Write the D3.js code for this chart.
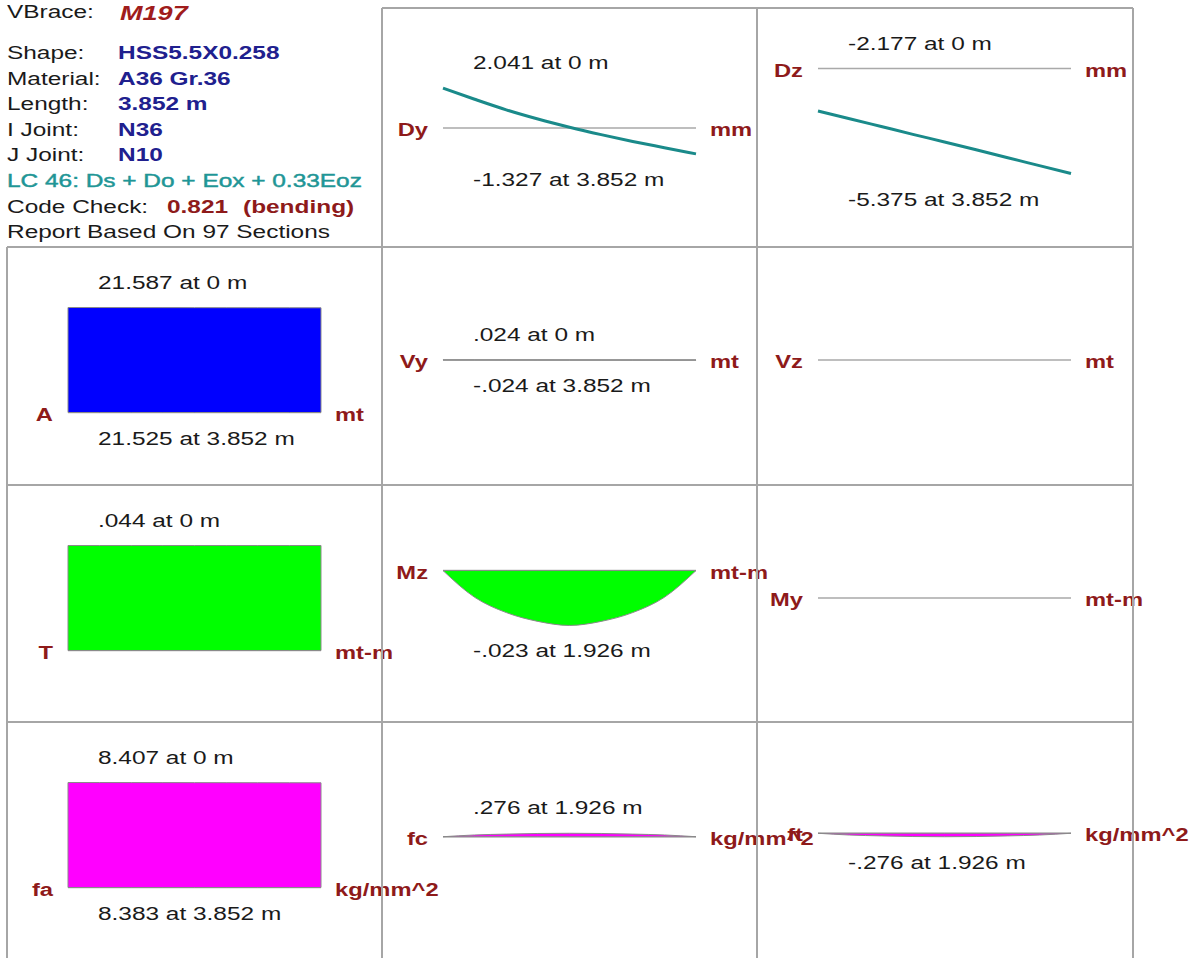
<!DOCTYPE html>
<html>
<head>
<meta charset="utf-8">
<script src="https://cdn.jsdelivr.net/npm/d3@7"></script>
<style>
  html, body { margin: 0; padding: 0; background: #fff; }
  svg { display: block; }
</style>
</head>
<body>
<script>
// ---- Member summary ----
const memberType = "VBrace:";
const memberName = "M197";
const infoLabels = ["Shape:", "Material:", "Length:", "I Joint:", "J Joint:"];
const infoValues = ["HSS5.5X0.258", "A36 Gr.36", "3.852 m", "N36", "N10"];
const loadCombo = "LC 46: Ds + Do + Eox + 0.33Eoz";
const codeCheckValue = "0.821";
const codeCheckGoverning = "(bending)";
const sectionCount = 97;

// ---- Results along the member (one value per station) ----
const memberLength = 3.852;
const stations = [0, 0.4815, 0.963, 1.4445, 1.926, 2.4075, 2.889, 3.3705, 3.852];

const dyValues     = [2.041, 1.47, 0.93, 0.46, 0.04, -0.34, -0.69, -1.01, -1.327];
const dzValues     = [-2.177, -2.57, -2.97, -3.37, -3.76, -4.16, -4.57, -4.97, -5.375];
const axialValues  = [21.587, 21.58, 21.572, 21.564, 21.556, 21.548, 21.54, 21.532, 21.525];
const vyValues     = [0.024, 0.018, 0.012, 0.006, 0, -0.006, -0.012, -0.018, -0.024];
const vzValues     = [0, 0, 0, 0, 0, 0, 0, 0, 0];
const torqueValues = [0.044, 0.044, 0.044, 0.044, 0.044, 0.044, 0.044, 0.044, 0.044];
const mzValues     = [0, -0.0112, -0.0176, -0.0213, -0.023, -0.0213, -0.0176, -0.0112, 0];
const myValues     = [0, 0, 0, 0, 0, 0, 0, 0, 0];
const faValues     = [8.407, 8.404, 8.401, 8.398, 8.395, 8.392, 8.389, 8.386, 8.383];
const fcValues     = [0, 0.14, 0.21, 0.26, 0.276, 0.26, 0.21, 0.14, 0];
const ftValues     = [0, -0.14, -0.21, -0.26, -0.276, -0.26, -0.21, -0.14, 0];

const diagramNames = ["Dy", "Dz", "A", "Vy", "Vz", "T", "Mz", "My", "fa", "fc", "ft"];
const diagramUnits = ["mm", "mm", "mt", "mt", "mt", "mt-m", "mt-m", "mt-m", "kg/mm^2", "kg/mm^2", "kg/mm^2"];
const diagramSeries = [dyValues, dzValues, axialValues, vyValues, vzValues,
                       torqueValues, mzValues, myValues, faValues, fcValues, ftValues];

// ---- Page layout ----
const W = 1199, H = 958;
const SX = 1.32;          // horizontal stretch of the lettering
const FS = 18.5;
const FONT = "'Liberation Sans', Arial, Helvetica, sans-serif";
const colX = [7, 382, 757, 1133];
const rowY = [8, 247, 485, 722, 960];
const SPAN = 105;         // pixel height of the largest value in a group

const RED = "#8e1a1a", NAVY = "#20208e", TEAL = "#1f9696", INK = "#1a1a1a";

// grid cell, drawing style and scale group for each diagram
const cells = {
  Dy: { col: 1, row: 0, kind: "line", group: "disp" },
  Dz: { col: 2, row: 0, kind: "line", group: "disp" },
  A:  { col: 0, row: 1, kind: "area", group: "force",  fill: "#0000ff" },
  Vy: { col: 1, row: 1, kind: "area", group: "force",  fill: "#ffff00" },
  Vz: { col: 2, row: 1, kind: "area", group: "force",  fill: "#ffff00" },
  T:  { col: 0, row: 2, kind: "area", group: "moment", fill: "#00ff00" },
  Mz: { col: 1, row: 2, kind: "area", group: "moment", fill: "#00ff00" },
  My: { col: 2, row: 2, kind: "area", group: "moment", fill: "#00ff00" },
  fa: { col: 0, row: 3, kind: "area", group: "stress", fill: "#ff00ff" },
  fc: { col: 1, row: 3, kind: "area", group: "stress", fill: "#ff00ff" },
  ft: { col: 2, row: 3, kind: "area", group: "stress", fill: "#ff00ff" }
};

const svg = d3.select("body").append("svg")
  .attr("width", W).attr("height", H)
  .attr("viewBox", `0 0 ${W} ${H}`);

svg.append("rect").attr("width", W).attr("height", H).attr("fill", "#fff");

function label(g, x, y, s, o = {}) {
  return g.append("text")
    .attr("transform", `translate(${x},${y}) scale(${SX},1)`)
    .attr("text-anchor", o.anchor || "start")
    .style("font-family", FONT)
    .style("font-size", (o.size || FS) + "px")
    .style("font-weight", o.weight || "normal")
    .style("font-style", o.italic ? "italic" : "normal")
    .attr("fill", o.color || INK)
    .attr("stroke", o.stroke || "none")
    .attr("stroke-width", o.strokeWidth || 0)
    .text(s);
}

// ---- Header block ----
const head = svg.append("g");
label(head, 7, 18, memberType);
label(head, 120, 20, memberName, { weight: "bold", italic: true, size: 20.5, color: "#a01c1c" });
const lineY = i => 59 + 25.6 * i;
infoLabels.forEach((t, i) => {
  label(head, 7, lineY(i), t);
  label(head, 118, lineY(i), infoValues[i], { weight: "bold", color: NAVY });
});
label(head, 7, lineY(5), loadCombo, { color: TEAL, stroke: TEAL, strokeWidth: 0.45 });
label(head, 7, lineY(6), "Code Check:");
label(head, 167, lineY(6), codeCheckValue, { weight: "bold", color: RED });
label(head, 243, lineY(6), codeCheckGoverning, { weight: "bold", color: RED });
label(head, 7, lineY(7), `Report Based On ${sectionCount} Sections`);

// ---- Shared scale per group ----
const groupMax = {};
diagramNames.forEach((n, i) => {
  const g = cells[n].group;
  const m = d3.max(diagramSeries[i], v => Math.abs(v));
  groupMax[g] = Math.max(groupMax[g] || 0, m);
});

// values print with three decimals and no leading zero
const fmtVal = v => v.toFixed(3).replace(/^(-?)0\./, "$1.");
const fmtPos = s => String(+s.toFixed(3));

const plots = svg.append("g");
diagramNames.forEach((name, i) => {
  const c = cells[name];
  const vals = diagramSeries[i];
  const cx = colX[c.col], cy = rowY[c.row];
  const gmax = groupMax[c.group];
  const k = SPAN / gmax;
  const vmax = d3.max(vals), vmin = d3.min(vals);
  const center = cy + 113;
  const base = center + (Math.max(0, vmax) + Math.min(0, vmin)) * k / 2;

  const x = d3.scaleLinear().domain([0, memberLength]).range([cx + 61, cx + 314]);
  const y = d3.scaleLinear().domain([0, gmax]).range([base, base - SPAN]);
  const pts = stations.map((s, j) => [s, vals[j]]);
  const g = plots.append("g");

  // zero line
  g.append("line")
    .attr("x1", x(0)).attr("x2", x(memberLength))
    .attr("y1", y(0)).attr("y2", y(0))
    .attr("stroke", "#a9a9a9").attr("stroke-width", 1.6);

  if (c.kind === "line") {
    g.append("path")
      .attr("d", d3.line().x(d => x(d[0])).y(d => y(d[1])).curve(d3.curveMonotoneX)(pts))
      .attr("fill", "none").attr("stroke", "#1a8a8a").attr("stroke-width", 3);
  } else if (vmax !== 0 || vmin !== 0) {
    g.append("path")
      .attr("d", d3.area().x(d => x(d[0])).y0(y(0)).y1(d => y(d[1])).curve(d3.curveMonotoneX)(pts))
      .attr("fill", c.fill).attr("stroke", "#8a8a8a").attr("stroke-width", 1);
  }

  // diagram name and unit
  label(g, cx + 46, base + 8, name, { anchor: "end", weight: "bold", color: RED, size: 18 });
  label(g, cx + 328, base + 8, diagramUnits[i], { weight: "bold", color: RED, size: 18 });

  // extreme values
  if (vmax !== 0) {
    const j = d3.maxIndex(vals);
    label(g, cx + 91, y(Math.max(0, vmax)) - 19, `${fmtVal(vmax)} at ${fmtPos(stations[j])} m`);
  }
  if (vmin !== 0 && vmin !== vmax) {
    const j = d3.minIndex(vals);
    label(g, cx + 91, y(Math.min(0, vmin)) + 32, `${fmtVal(vmin)} at ${fmtPos(stations[j])} m`);
  }
});

// ---- Grid ----
const grid = svg.append("g").attr("stroke", "#a6a6a6").attr("stroke-width", 2);
grid.append("line").attr("x1", colX[1]).attr("x2", colX[3]).attr("y1", rowY[0]).attr("y2", rowY[0]);
[1, 2, 3].forEach(r => grid.append("line")
  .attr("x1", colX[0]).attr("x2", colX[3]).attr("y1", rowY[r]).attr("y2", rowY[r]));
grid.append("line").attr("x1", colX[0]).attr("x2", colX[0]).attr("y1", rowY[1]).attr("y2", rowY[4]);
[1, 2, 3].forEach(cI => grid.append("line")
  .attr("x1", colX[cI]).attr("x2", colX[cI]).attr("y1", rowY[0]).attr("y2", rowY[4]));
</script>
</body>
</html>
